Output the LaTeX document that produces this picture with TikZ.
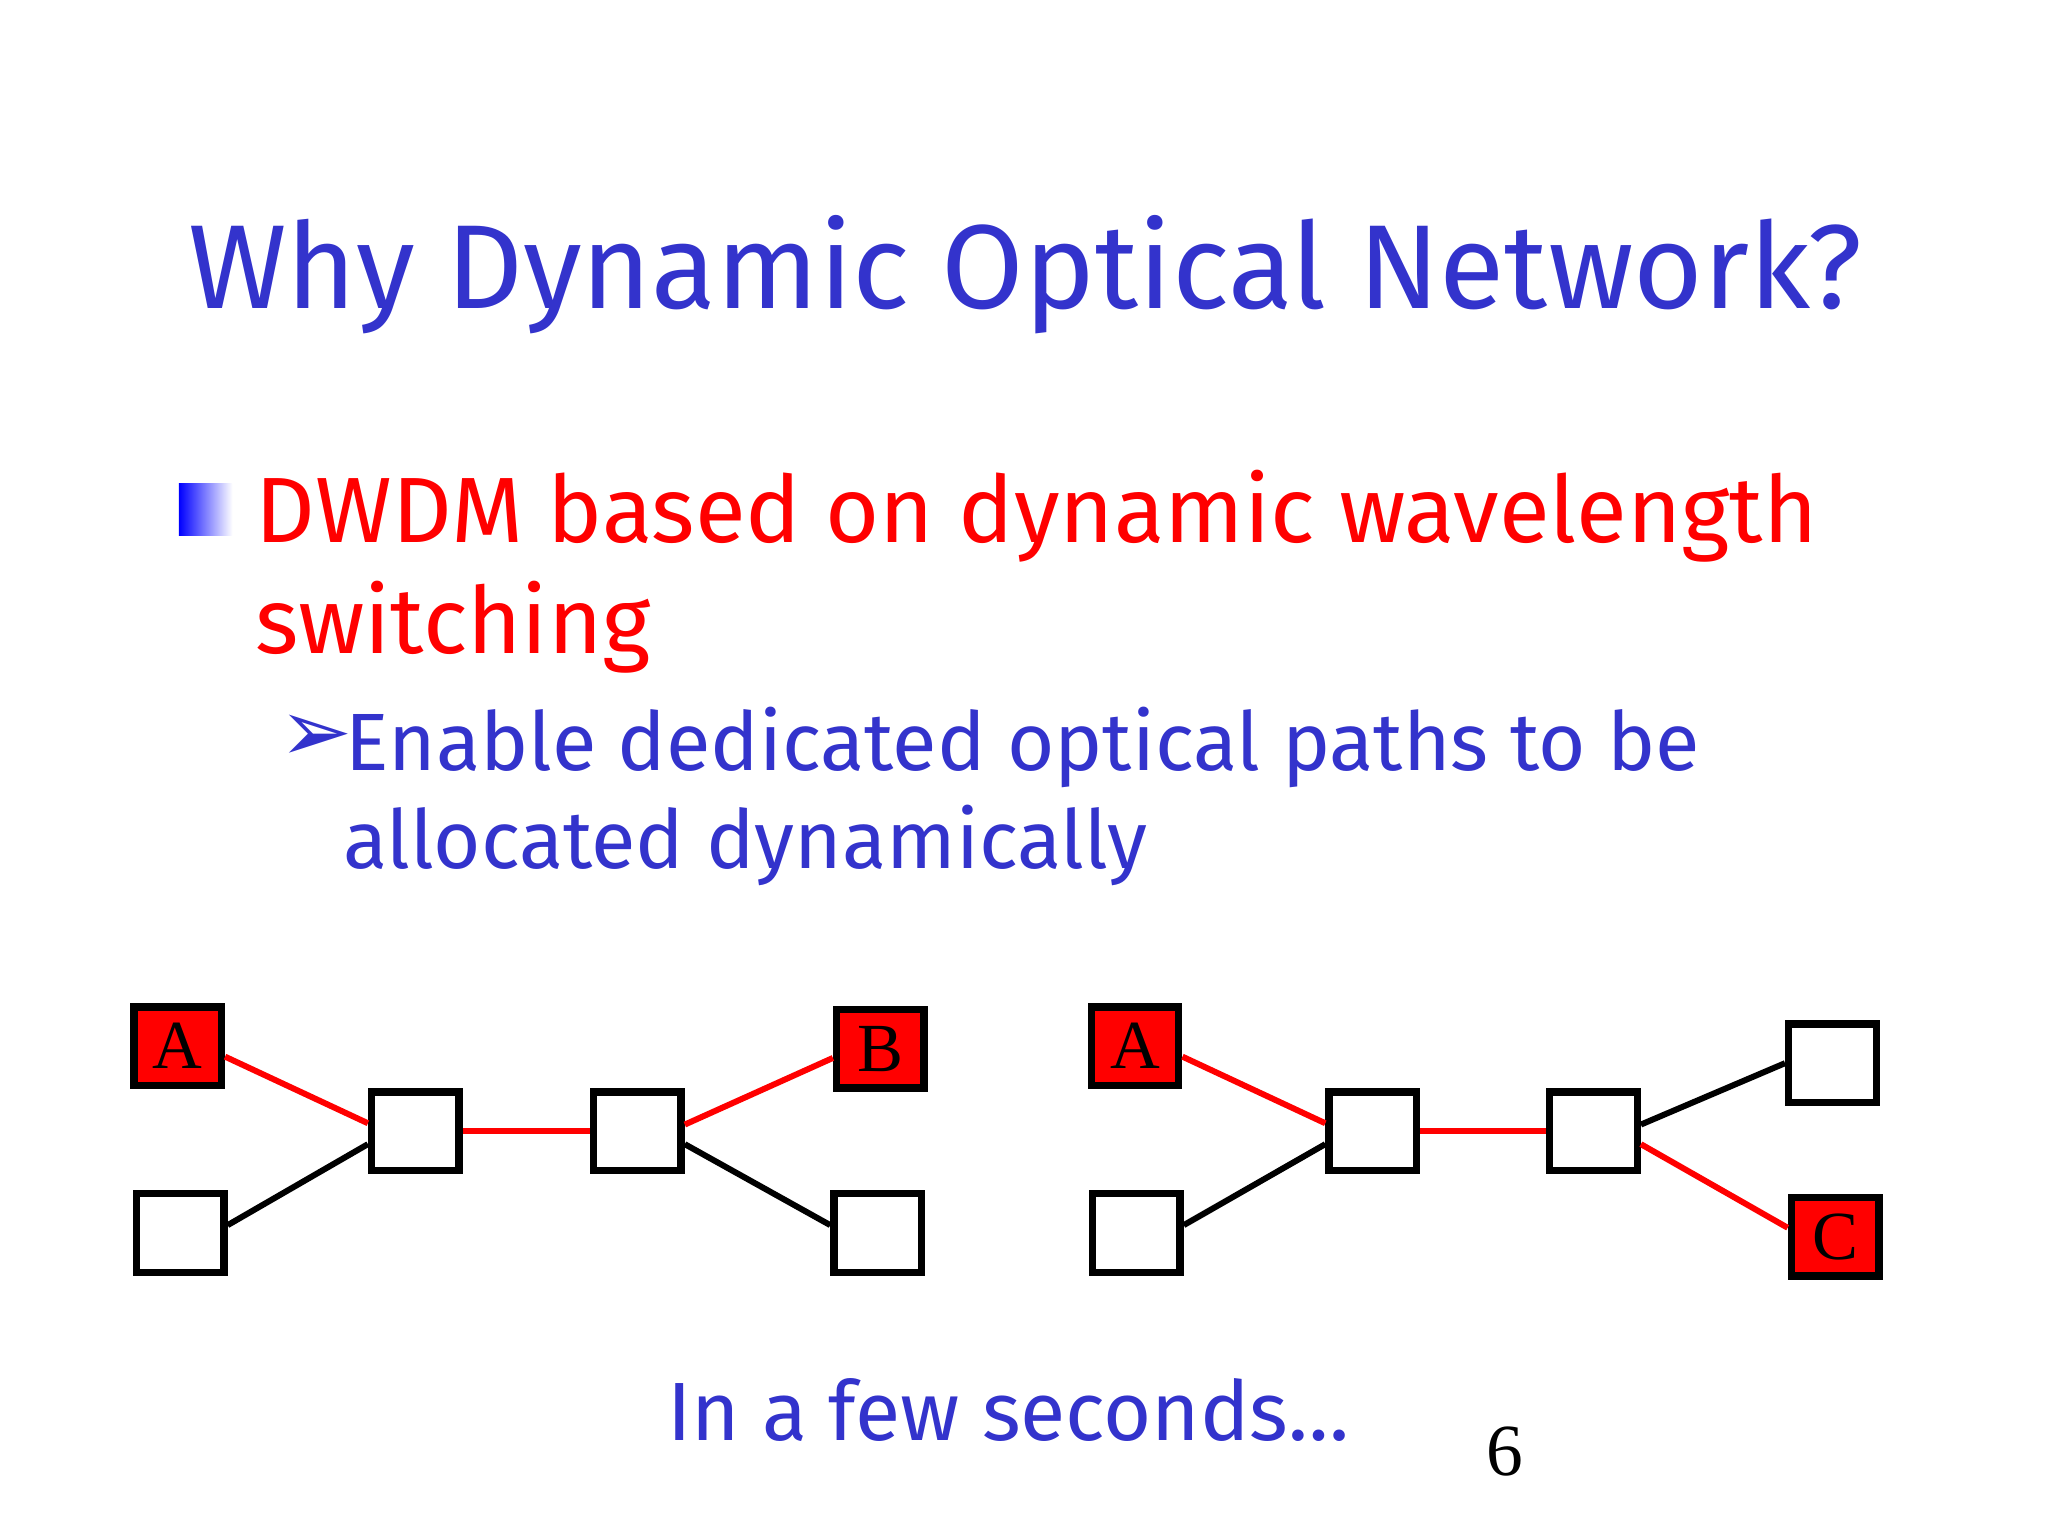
\documentclass[tikz,border=0pt]{standalone}
\usepackage{fontspec}
\setmainfont{Fira Sans}
\newfontfamily\symf{DejaVu Sans}
\newfontfamily\serf{Liberation Serif}
\definecolor{tblue}{RGB}{51,51,204}
\definecolor{tred}{RGB}{255,0,0}
\begin{document}
\begin{tikzpicture}[x=0.01cm,y=-0.01cm,
  box/.style={draw=black,line width=1.6pt,minimum width=0.67cm,minimum height=0.6cm,inner sep=0pt,font=\serf\fontsize{15}{15}\selectfont},
  rbox/.style={box,fill=tred},
  rl/.style={tred,line width=1.3pt},
  bl/.style={black,line width=1.3pt}]
\useasboundingbox (0,0) rectangle (1568,1176);
\node[tblue,font=\fontsize{26}{30}\selectfont] (title) at (785,210) {Why Dynamic Optical Network?};
\shade[left color=blue,right color=white] (137,370) rectangle (178,410);
\node[tred,anchor=base west,font=\fontsize{20.2}{24}\selectfont,inner sep=0pt] (l1) at (195,415) {DWDM based on dynamic wavelength};
\node[tred,anchor=base west,font=\fontsize{20.2}{24}\selectfont,inner sep=0pt] (l2) at (195,500) {switching};
\node[tblue,anchor=base west,font=\symf\fontsize{19}{19}\selectfont,inner sep=0pt] (ar) at (213,583) {➢};
\node[tblue,anchor=base west,font=\fontsize{17.7}{20}\selectfont,inner sep=0pt] (l3) at (264,590) {Enable dedicated optical paths to be};
\node[tblue,anchor=base west,font=\fontsize{17.7}{20}\selectfont,inner sep=0pt] (l4) at (262,665) {allocated dynamically};
% left
\node[rbox] (a1) at (136,801) {A};
\node[box] (d1) at (138,944) {};
\node[box] (c1) at (318,866) {};
\node[box] (c2) at (488,866) {};
\node[rbox] (b1) at (674,803) {B};
\node[box] (e1) at (672,944) {};
\draw[rl] ([yshift=-0.08cm]a1.east) -- ([yshift=0.06cm]c1.west);
\draw[bl] ([yshift=0.06cm]d1.east) -- ([yshift=-0.1cm]c1.west);
\draw[rl] (c1.east) -- (c2.west);
\draw[rl] ([yshift=0.05cm]c2.east) -- ([yshift=-0.07cm]b1.west);
\draw[bl] ([yshift=-0.1cm]c2.east) -- ([yshift=0.06cm]e1.west);
% right
\node[rbox] (a2) at (869,801) {A};
\node[box] (d2) at (870,944) {};
\node[box] (c3) at (1051,866) {};
\node[box] (c4) at (1220,866) {};
\node[box] (t2) at (1403,814) {};
\node[rbox] (cc) at (1405,947) {C};
\draw[rl] ([yshift=-0.08cm]a2.east) -- ([yshift=0.06cm]c3.west);
\draw[bl] ([yshift=0.06cm]d2.east) -- ([yshift=-0.1cm]c3.west);
\draw[rl] (c3.east) -- (c4.west);
\draw[bl] ([yshift=0.05cm]c4.east) -- (t2.west);
\draw[rl] ([yshift=-0.1cm]c4.east) -- ([yshift=0.07cm]cc.west);
\node[tblue,anchor=base,font=\fontsize{18}{22}\selectfont,inner sep=0pt] (few) at (772,1103) {In a few seconds…};
\node[anchor=base,font=\serf\fontsize{16}{16}\selectfont,inner sep=0pt] (pg) at (1152,1130) {6};
\end{tikzpicture}
\end{document}
